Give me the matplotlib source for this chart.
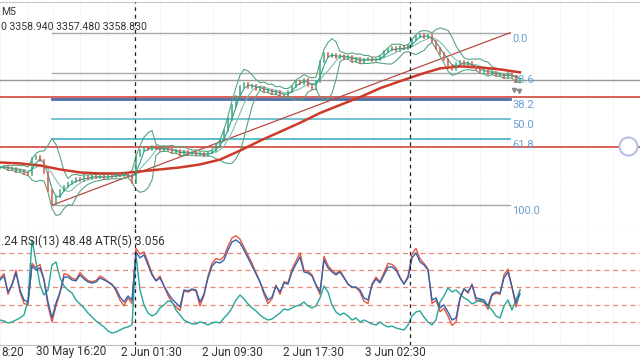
import numpy as np
import pandas as pd
import matplotlib
matplotlib.use('Agg')
import matplotlib.pyplot as plt
import matplotlib.transforms as mtransforms

plt.rcParams['font.family'] = ['Roboto', 'DejaVu Sans']

# XAUUSD M5 closes (one value per plotted step)
close = [
    3297.5, 3298.2, 3296.1, 3296.8, 3294.7, 3295.4, 3293.3, 3292.6, 3303.7, 3305.1,
    3302.3, 3294.0, 3281.5, 3272.4, 3277.3, 3281.5, 3284.3, 3286.3, 3287.7, 3289.8,
    3288.4, 3291.2, 3289.8, 3291.9, 3290.5, 3291.2, 3289.8, 3291.9, 3291.2, 3292.6,
    3291.9, 3293.3, 3291.2, 3287.0, 3305.8, 3309.3, 3311.4, 3310.0, 3312.1, 3310.7,
    3309.3, 3311.4, 3310.0, 3307.9, 3309.3, 3306.5, 3308.6, 3307.2, 3307.9, 3306.5,
    3307.2, 3305.8, 3307.9, 3309.3, 3312.8, 3316.2, 3323.2, 3331.5, 3340.6, 3347.5,
    3354.5, 3356.6, 3353.8, 3355.2, 3352.4, 3353.8, 3351.0, 3351.7, 3349.6, 3351.0,
    3348.2, 3347.5, 3351.0, 3354.5, 3358.0, 3356.6, 3359.4, 3355.2, 3353.1, 3358.0,
    3371.9, 3377.4, 3375.4, 3376.7, 3374.7, 3376.0, 3374.0, 3375.4, 3371.9, 3374.0,
    3371.2, 3373.3, 3374.0, 3372.6, 3373.3, 3375.4, 3378.8, 3380.2, 3381.6, 3379.5,
    3382.3, 3380.9, 3383.0, 3387.2, 3389.3, 3390.7, 3388.6, 3390.0, 3385.8, 3380.9,
    3377.4, 3373.3, 3369.1, 3366.3, 3370.5, 3371.9, 3369.8, 3371.2, 3367.7, 3366.3,
    3364.9, 3365.6, 3363.5, 3364.2, 3362.1, 3362.8, 3360.7, 3363.5, 3361.4, 3358.0,
    3358.83,
]

# slow moving average, one value every 5 steps
slow_ma = [3301.0, 3300.3, 3298.9, 3296.1, 3294.0, 3293.3, 3293.3, 3294.7, 3296.1,
           3297.5, 3299.6, 3303.0, 3309.3, 3316.2, 3322.5, 3328.8, 3335.7, 3341.3,
           3346.8, 3353.1, 3358.0, 3362.8, 3367.0, 3368.4, 3367.7, 3366.3, 3364.2]

rsi_blue = [
    56.5, 60.0, 46.1, 52.2, 62.6, 47.8, 39.1, 37.4, 68.7, 65.2,
    67.0, 56.5, 37.4, 23.5, 36.5, 46.1, 59.1, 59.1, 56.5, 55.7,
    60.9, 57.4, 54.8, 53.9, 54.8, 58.3, 56.5, 54.8, 52.2, 48.7,
    41.7, 37.4, 42.6, 39.1, 80.9, 75.7, 78.3, 69.6, 60.9, 55.7,
    58.3, 51.3, 45.2, 40.0, 36.5, 33.0, 47.8, 47.0, 48.7, 47.8,
    37.4, 44.3, 58.3, 68.7, 72.2, 71.3, 73.9, 82.6, 89.6, 91.3,
    88.7, 82.6, 75.7, 68.7, 61.7, 54.8, 46.1, 39.1, 41.7, 51.3,
    46.1, 53.9, 53.0, 63.5, 70.4, 76.5, 63.5, 62.6, 60.0, 52.2,
    46.1, 73.9, 67.0, 63.5, 60.9, 63.5, 58.3, 53.0, 50.4, 50.4,
    47.8, 40.9, 39.1, 52.2, 57.4, 53.9, 60.9, 67.8, 67.8, 65.2,
    58.3, 53.0, 58.3, 75.7, 80.0, 72.2, 69.6, 65.2, 39.1, 40.9,
    32.2, 34.8, 28.7, 21.7, 23.5, 40.9, 48.7, 46.1, 52.2, 40.9,
    40.0, 39.1, 33.9, 44.3, 46.1, 45.2, 58.3, 63.5, 50.4, 36.5,
    44.3,
]

rsi_red = [
    58, 62, 44, 53, 65, 46, 36, 35, 71, 67,
    70, 57, 34, 20, 34, 45, 62, 61, 58, 57,
    63, 59, 56, 55, 56, 60, 58, 55, 53, 47,
    39, 34, 41, 36, 84, 79, 81, 72, 62, 56,
    60, 51, 43, 37, 33, 30, 47, 46, 48, 47,
    34, 43, 60, 71, 75, 74, 77, 86, 93, 95,
    92, 85, 78, 71, 63, 55, 44, 36, 40, 52,
    44, 55, 54, 66, 73, 80, 65, 64, 61, 52,
    44, 77, 69, 65, 62, 65, 59, 53, 50, 50,
    46, 38, 36, 53, 59, 55, 63, 71, 70, 67,
    59, 53, 60, 79, 84, 75, 71, 66, 36, 39,
    29, 32, 25, 17, 20, 40, 49, 45, 53, 39,
    38, 37, 31, 43, 45, 44, 61, 66, 50, 33,
    48,
]

atr_line = [
    21.7, 20.9, 19.1, 20.0, 21.7, 23.5, 26.1, 39.1, 91.3, 72.2,
    52.2, 43.5, 47.8, 69.6, 72.2, 58.3, 51.3, 47.8, 45.2, 39.1,
    35.7, 32.2, 27.8, 24.3, 20.9, 18.3, 15.7, 12.2, 10.4, 11.3,
    13.0, 14.8, 15.7, 17.4, 78.3, 47.8, 34.8, 27.8, 25.2, 27.0,
    32.2, 34.8, 38.3, 37.4, 30.4, 26.1, 21.7, 20.0, 18.3, 18.3,
    20.0, 19.1, 17.4, 19.1, 20.0, 19.1, 23.5, 27.0, 32.2, 39.1,
    43.5, 40.0, 35.7, 32.2, 29.6, 26.1, 23.5, 21.7, 22.6, 25.2,
    27.8, 31.3, 30.4, 32.2, 33.9, 34.8, 37.4, 33.9, 32.2, 33.9,
    40.9, 51.3, 46.1, 34.8, 28.7, 26.1, 27.8, 25.2, 21.7, 23.5,
    20.0, 21.7, 20.0, 18.3, 17.4, 20.0, 17.4, 15.7, 16.5, 14.8,
    13.9, 13.0, 17.4, 25.2, 28.7, 29.6, 24.3, 20.0, 17.4, 21.7,
    37.4, 42.6, 49.6, 46.1, 47.8, 44.3, 40.9, 39.1, 35.7, 37.4,
    39.1, 37.4, 33.9, 30.4, 25.2, 23.5, 33.9, 39.1, 30.4, 39.1,
    47.8,
]

fib_high = 3392.0
fib_low = 3271.0
fib_levels = [0.0, 23.6, 38.2, 50.0, 61.8, 100.0]
fib_colors = ['#a8a8a8', '#a8a8a8', '#4a6ea8', '#5cb8cc', '#3db3c4', '#a8a8a8']
fib_widths = [1.0, 1.0, 2.0, 1.2, 1.2, 1.0]
fib_start, fib_end = 13, 127.5

bid_price = 3358.83
red_levels = [3346.8, 3312.1]

day_breaks = [33.75, 102.5]
tick_pos = [17.75, 37.75, 58.0, 78.25, 98.75]
tick_labels = ['30 May 16:20', '2 Jun 01:30', '2 Jun 09:30', '2 Jun 17:30', '3 Jun 02:30']
rsi_levels = [20, 35, 50, 65, 80]

s = pd.Series(close)
idx = np.arange(len(close))
bb_mid = s.rolling(6, min_periods=1).mean()
bb_std = s.rolling(6, min_periods=1).std(ddof=0)
bb_up = bb_mid + 2 * bb_std
bb_dn = bb_mid - 2 * bb_std
ma_fast = s.rolling(3, min_periods=1).mean()
ma_mid = s.rolling(6, min_periods=1).mean()

fig = plt.figure(figsize=(6.4, 3.6), dpi=100)
ax = fig.add_axes([0, 1 - 228 / 360, 1, 226 / 360])
ax2 = fig.add_axes([0, 15 / 360, 1, 117 / 360], sharex=ax)

for a in (ax, ax2):
    a.set_facecolor('white')
    for sp in ('left', 'right'):
        a.spines[sp].set_visible(False)
    a.tick_params(left=False, labelleft=False, bottom=False, labelbottom=False)
    for g in np.arange(0, 161, 6.667):
        a.axvline(g, color='#e6e6e6', lw=0.7, ls=(0, (1, 2)), zorder=0)
    for d in day_breaks:
        a.axvline(d, color='#222222', lw=0.9, ls=(0, (3, 3)), zorder=5)

ax.spines['top'].set_color('#c8c8c8')
ax.spines['bottom'].set_color('#bdbdbd')
ax2.spines['top'].set_visible(False)
ax2.spines['bottom'].set_color('#bdbdbd')

ax.set_xlim(0, 160)
ax.set_ylim(3255.0, 3413.6)
ax2.set_ylim(0, 101.7)

# horizontal levels across the whole chart
ax.axhline(bid_price, color='#9a9a9a', lw=1.0, zorder=2)
for lv in red_levels:
    ax.axhline(lv, color='#d2463c', lw=1.2, zorder=2)

# fibonacci retracement
fib_prices = [fib_high - l / 100 * (fib_high - fib_low) for l in fib_levels]
for l, p, c, w in zip(fib_levels, fib_prices, fib_colors, fib_widths):
    ax.plot([fib_start, fib_end], [p, p], color=c, lw=w, zorder=3)
    ax.text(fib_end + 0.6, p - 0.8, f'{l:.1f}', color='#6a9fcf', fontsize=8,
            ha='left', va='top')
ax.plot([fib_start, fib_end], [fib_low, fib_high], color='#b84a44', lw=0.9, zorder=3)

# bands and averages
ax.plot(idx, bb_up, color='#5aa383', lw=0.8, zorder=4)
ax.plot(idx, bb_dn, color='#5aa383', lw=0.8, zorder=4)
ax.plot(idx, ma_mid, color='#7fbfae', lw=0.8, zorder=4)
ax.plot(idx, ma_fast, color='#2aa198', lw=0.8, zorder=4)
ax.plot(np.arange(len(slow_ma)) * 5, slow_ma, color='#cc3a2a', lw=1.8, zorder=4)

# candles as bodies from previous close
opens = [close[0]] + close[:-1]
for i, (o, c) in enumerate(zip(opens, close)):
    col = '#3aa676' if c >= o else '#e0533d'
    ax.plot([i, i], [min(o, c) - 0.4, max(o, c) + 0.4], color=col, lw=1.1, zorder=6)

ax.plot([128.6, 129.8], [3351.5, 3351.0], 'v', color='#8a8a8a', ms=3, zorder=6)
ax.plot([157], [3312.4], 'o', ms=13, mfc='white', mec='#b9bfe6', mew=1.5, zorder=8, clip_on=False)

ax.text(1 / 640, 1 - 10 / 226, 'M5', transform=ax.transAxes, fontsize=7.5,
        color='#333333', ha='left', va='center')
ax.text(1 / 640, 1 - 25 / 226, '0 3358.940 3357.480 3358.830',
        transform=ax.transAxes, fontsize=7.6, color='#333333', ha='left', va='center')

# oscillator panel
for lv in rsi_levels:
    ax2.axhline(lv, color='#e88a78', lw=0.9, ls=(0, (4, 3)), zorder=1)
ax2.plot(np.arange(len(rsi_red)), rsi_red, color='#e8553d', lw=1.0, zorder=3)
ax2.plot(np.arange(len(rsi_blue)), rsi_blue, color='#2f63b0', lw=1.0, zorder=4)
ax2.plot(np.arange(len(atr_line)), atr_line, color='#26a69a', lw=1.0, zorder=3)
ax2.text(1 / 640, 1 - 13 / 117, '.24 RSI(13) 48.48 ATR(5) 3.056',
         transform=ax2.transAxes, fontsize=8.6, color='#333333', ha='left', va='center')

trans = mtransforms.blended_transform_factory(ax2.transData, ax2.transAxes)
ax2.text(1 / 640, -7 / 117, '8:20', transform=ax2.transAxes, fontsize=8.5,
         color='#333333', ha='left', va='center')
for p, lab in zip(tick_pos, tick_labels):
    ax2.text(p, -7 / 117, lab, transform=trans, fontsize=8.5, color='#333333',
             ha='center', va='center', clip_on=False)

fig.savefig('out.png', dpi=100, facecolor='white')
